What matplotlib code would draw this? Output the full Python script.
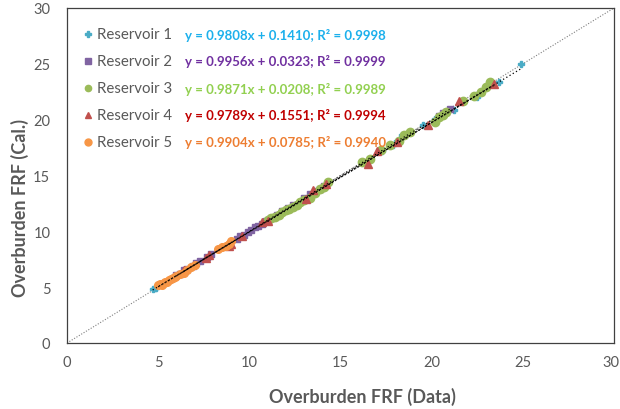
import matplotlib
matplotlib.use("Agg")
import matplotlib.pyplot as plt
import matplotlib.transforms as mtransforms
import numpy as np

# ---- data ----
series_names = ["Reservoir 1", "Reservoir 2", "Reservoir 3", "Reservoir 4", "Reservoir 5"]
equations = ["y = 0.9808x + 0.1410; R² = 0.9998",
             "y = 0.9956x + 0.0323; R² = 0.9999",
             "y = 0.9871x + 0.0208; R² = 0.9989",
             "y = 0.9789x + 0.1551; R² = 0.9994",
             "y = 0.9904x + 0.0785; R² = 0.9940"]
slopes = [0.9808, 0.9956, 0.9871, 0.9789, 0.9904]
intercepts = [0.1410, 0.0323, 0.0208, 0.1551, 0.0785]

x1 = [4.7, 4.8, 4.9, 17.3, 17.9, 18.1, 18.4, 19.5, 20.2, 20.3, 21.2, 22.5, 23.7, 24.9]
y1 = [4.8, 4.9, 4.95, 17.2, 17.7, 18.1, 18.6, 19.5, 20.1, 20.1, 20.9, 22.0, 23.4, 25.0]

x2 = [6.0, 6.2, 6.4, 6.6, 6.9, 7.1, 7.3, 7.7, 7.9, 9.3, 9.5, 9.7, 9.9, 10.1, 10.3, 10.5,
      10.7, 10.9, 11.2, 11.5, 11.8, 12.1, 12.4, 13.0, 13.3, 13.6, 13.9, 14.1, 20.4, 20.6, 20.8, 21.0]
y2 = [6.1, 6.2, 6.5, 6.6, 6.9, 7.2, 7.3, 7.7, 8.0, 9.3, 9.6, 9.7, 9.9, 10.1, 10.4, 10.5,
      10.7, 10.9, 11.2, 11.5, 11.8, 12.1, 12.4, 13.0, 13.3, 13.6, 13.8, 14.1, 20.3, 20.6, 20.7, 21.0]

x3 = [11.0, 11.2, 11.4, 11.6, 11.8, 12.0, 12.2, 12.4, 12.6, 12.8, 13.0, 13.3, 13.6, 13.9, 14.1, 14.3,
      16.2, 16.6, 17.2, 17.7, 18.2, 18.5, 18.8, 20.2, 20.4, 20.6, 20.8, 21.7, 22.3, 22.7, 23.0, 23.2]
y3 = [11.0, 11.2, 11.3, 11.5, 11.7, 11.9, 12.0, 12.2, 12.4, 12.6, 12.8, 13.0, 13.4, 13.8, 14.0, 14.4,
      16.2, 16.5, 17.3, 17.7, 18.1, 18.6, 18.9, 19.8, 20.2, 20.4, 20.7, 21.7, 22.1, 22.5, 22.9, 23.4]

x4 = [6.4, 7.6, 7.8, 8.9, 9.0, 9.6, 10.7, 11.0, 13.1, 13.5, 14.2, 16.5, 17.0, 18.1, 19.8, 21.5, 23.4]
y4 = [6.5, 7.6, 7.9, 8.7, 8.9, 9.6, 10.8, 10.9, 12.9, 13.7, 14.2, 16.0, 17.2, 18.0, 19.5, 21.7, 23.2]

x5 = [5.0, 5.1, 5.2, 5.3, 5.4, 5.5, 5.6, 5.7, 5.8, 5.9, 6.0, 6.2, 6.4, 6.6, 6.8, 7.0,
      8.3, 8.5, 8.7, 8.9, 9.0]
y5 = [5.2, 5.3, 5.2, 5.4, 5.5, 5.5, 5.6, 5.7, 5.8, 5.9, 6.0, 6.2, 6.3, 6.5, 6.8, 7.0,
      8.4, 8.6, 8.7, 8.9, 9.1]

axis_ticks = [0, 5, 10, 15, 20, 25, 30]

# ---- styles ----
marker_colors = ["#4BACC6", "#8064A2", "#9BBB59", "#C0504D", "#F79646"]
eq_colors = ["#1CB0EC", "#7030A0", "#92D050", "#C00000", "#ED7D31"]
markers = ["P", "s", "o", "^", "o"]
msizes = [4.5, 5, 6, 6, 5.5]
leg_msizes = [4, 4.5, 4.5, 4.5, 5]

plt.rcParams["font.family"] = ["Lato", "DejaVu Sans"]

fig = plt.figure(figsize=(6.2, 4.1), dpi=100)
ax = fig.add_axes([67/620, 1 - 344/410, (614-67)/620, (344-9)/410])

ax.plot([0, 30], [0, 30], linestyle=(0, (1, 1.5)), color="#7F7F7F", lw=0.8, zorder=1)

xs = [x1, x2, x3, x4, x5]
ys = [y1, y2, y3, y4, y5]
for i in range(5):
    ax.plot(xs[i], ys[i], linestyle="none", marker=markers[i], ms=msizes[i],
            color=marker_colors[i], mec=marker_colors[i], zorder=3, label=series_names[i])
for i in range(5):
    xr = np.array([min(xs[i]), max(xs[i])])
    ax.plot(xr, slopes[i]*xr + intercepts[i], linestyle=(0, (1, 2)), color="black", lw=0.9, zorder=4)

# legend rows (manual placement): marker, name, equation
row_y = [35, 62, 89, 116, 143]
for i in range(5):
    yy = (344 - row_y[i]) / 335
    ax.plot([(88-67)/547], [yy], transform=ax.transAxes, linestyle="none",
            marker=markers[i], ms=leg_msizes[i], color=marker_colors[i], clip_on=False)
    ax.text((97-67)/547, yy, series_names[i], transform=ax.transAxes,
            color="#595959", fontsize=10.8, va="center", ha="left")
    ax.text((185-67)/547, yy, equations[i], transform=ax.transAxes,
            color=eq_colors[i], fontsize=9.5, fontweight="bold", va="center", ha="left")

ax.set_xlim(0, 30)
ax.set_ylim(0, 30)
ax.set_xticks(axis_ticks)
ax.set_yticks(axis_ticks)
ax.tick_params(length=0, labelsize=10.5, labelcolor="#595959")
ax.tick_params(axis="x", pad=9)
ax.tick_params(axis="y", pad=12)
for s in ax.spines.values():
    s.set_color("#404040")
    s.set_linewidth(0.9)

# keep the last x tick label inside the figure
last = ax.get_xticklabels()[-1]
last.set_transform(last.get_transform() + mtransforms.ScaledTranslation(-3/100, 0, fig.dpi_scale_trans))

ax.set_xlabel("Overburden FRF (Data)", fontsize=13, fontweight="bold", color="#595959",
              ha="center", va="center")
ax.xaxis.set_label_coords((362-67)/547, (344-397)/335)
ax.set_ylabel("Overburden FRF (Cal.)", fontsize=13, fontweight="bold", color="#595959",
              ha="center", va="center")
ax.yaxis.set_label_coords((20-67)/547, (344-208)/335)

fig.savefig("out.png", dpi=100)
